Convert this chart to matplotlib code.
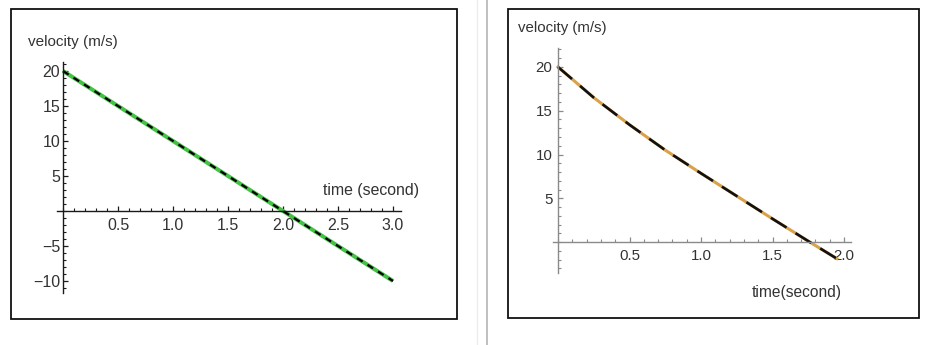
import matplotlib.pyplot as plt
from matplotlib.ticker import MultipleLocator, FixedLocator
from matplotlib.patches import Rectangle
from matplotlib.lines import Line2D

plt.rcParams['font.family'] = ['Liberation Sans', 'DejaVu Sans']

W, H = 943, 345

# left panel: straight-line velocity
t_left = [0.0, 1.0, 2.0, 3.0]
v_left = [20.0, 10.0, 0.0, -10.0]
xticks_left = [0.5, 1.0, 1.5, 2.0, 2.5, 3.0]
yticks_left = [-10, -5, 5, 10, 15, 20]

# right panel: curved velocity
t_right = [0.0, 0.25, 0.5, 0.75, 1.0, 1.25, 1.5, 1.76, 1.95]
v_right = [20.0, 16.5, 13.4, 10.5, 7.85, 5.25, 2.65, 0.0, -1.9]
xticks_right = [0.5, 1.0, 1.5, 2.0]
yticks_right = [5, 10, 15, 20]


def px_rect(x0, y0, x1, y1):
    # pixel box (top-left origin) -> figure fraction [l, b, w, h]
    return [x0 / W, (H - y1) / H, (x1 - x0) / W, (y1 - y0) / H]


def style_axes(ax, xlim, ylim, xt, yt, axcol, xpad, ypad, lsize):
    ax.set_xlim(*xlim)
    ax.set_ylim(*ylim)
    ax.patch.set_alpha(0)
    for s in ['top', 'right']:
        ax.spines[s].set_visible(False)
    ax.spines['left'].set_position(('data', 0))
    ax.spines['bottom'].set_position(('data', 0))
    for s in ['left', 'bottom']:
        ax.spines[s].set_color(axcol)
        ax.spines[s].set_linewidth(1.0)
    ax.xaxis.set_major_locator(FixedLocator(xt))
    ax.yaxis.set_major_locator(FixedLocator(yt))
    ax.xaxis.set_minor_locator(MultipleLocator(0.1))
    ax.yaxis.set_minor_locator(MultipleLocator(1))
    ax.set_xticklabels([f'{v:.1f}' for v in xt])
    ax.set_yticklabels([str(v).replace('-', '\u2212') for v in yt])
    ax.tick_params(which='major', direction='in', length=3.5, width=0.9,
                   color=axcol, labelsize=lsize, labelcolor='#333333')
    ax.tick_params(which='minor', direction='in', length=2.0, width=0.8, color=axcol)
    ax.tick_params(axis='x', pad=xpad)
    ax.tick_params(axis='y', pad=ypad)


fig = plt.figure(figsize=(W / 100, H / 100), dpi=100)

# panel frames and separator
fig.patches.append(Rectangle((11 / W, (H - 319) / H), 446 / W, 310 / H, transform=fig.transFigure,
                             fill=False, edgecolor='#111111', linewidth=1.3))
fig.patches.append(Rectangle((508 / W, (H - 318) / H), 411 / W, 309 / H, transform=fig.transFigure,
                             fill=False, edgecolor='#111111', linewidth=1.3))
fig.lines.append(Line2D([487.3 / W] * 2, [0, 1], transform=fig.transFigure, color='#b4b4b4', linewidth=1.2))
fig.lines.append(Line2D([477.3 / W] * 2, [0, 1], transform=fig.transFigure, color='#ececec', linewidth=1.0))

# left axes: x 110 px/unit with 0 at 63, y 7 px/unit with 0 at 211
xl = (-0.055, 3.07)
yl = (-11.7, 21.3)
ax1 = fig.add_axes(px_rect(63 + xl[0] * 110, 211 - yl[1] * 7, 63 + xl[1] * 110, 211 - yl[0] * 7))
style_axes(ax1, xl, yl, xticks_left, yticks_left, '#1a1a1a', 5.0, 2.0, 11.5)
ax1.plot(t_left, v_left, color='#45c245', linewidth=2.9, solid_capstyle='butt')
ln, = ax1.plot(t_left, v_left, color='black', linewidth=1.6)
ln.set_dashes([3.0, 2.6])

fig.text(28 / W, 1 - 42 / H, 'velocity (m/s)', fontsize=11, color='#333333', ha='left', va='center')
fig.text(323 / W, 1 - 190 / H, 'time (second)', fontsize=11.4, color='#333333', ha='left', va='center')

# right axes: x 143 px/unit with 0 at 558, y 8.75 px/unit with 0 at 242
xr = (-0.037, 2.05)
yr = (-3.5, 22.2)
ax2 = fig.add_axes(px_rect(558 + xr[0] * 143, 242 - yr[1] * 8.75, 558 + xr[1] * 143, 242 - yr[0] * 8.75))
style_axes(ax2, xr, yr, xticks_right, yticks_right, '#8a8a8a', 5.0, 4.0, 10.8)
ax2.plot(t_right, v_right, color='#d9a24a', linewidth=2.2)
ln2, = ax2.plot(t_right, v_right, color='#111111', linewidth=1.9)
ln2.set_dashes([7, 4])

fig.text(518 / W, 1 - 28 / H, 'velocity (m/s)', fontsize=10.8, color='#333333', ha='left', va='center')
fig.text(752 / W, 1 - 292 / H, 'time(second)', fontsize=11.2, color='#333333', ha='left', va='center')

fig.savefig('out.png', dpi=100)
